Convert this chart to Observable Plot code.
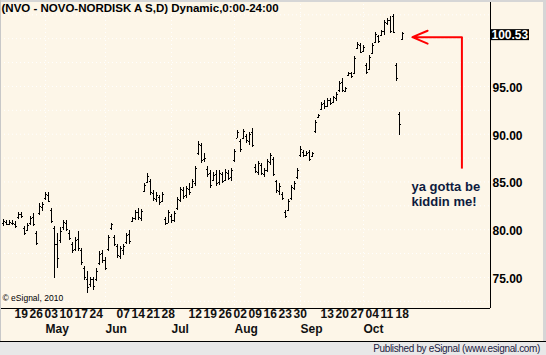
<!DOCTYPE html>
<html><head><meta charset="utf-8">
<script src="https://cdn.jsdelivr.net/npm/d3@7"></script>
<script src="https://cdn.jsdelivr.net/npm/@observablehq/plot@0.6"></script>
<style>
html,body{margin:0;padding:0;background:#fdf6e8;}
#wrap{position:relative;width:546px;height:355px;overflow:hidden;background:#fdf6e8;}
#chart svg{display:block}
#footer{position:absolute;left:0;top:341px;width:546px;height:14px;background:#e8e8e8;border-top:1px solid #000;box-sizing:border-box;font:10px "Liberation Sans",Arial,sans-serif;color:#22223f;text-align:right;padding-right:6px;line-height:13px;letter-spacing:-0.35px;}
.edge{position:absolute;background:#d6d6d6;}
</style>
</head><body>
<div id="wrap"><div id="chart"></div><div id="footer">Published by eSignal (www.esignal.com)</div>
<div class="edge" style="left:0;top:0;width:546px;height:2px"></div>
<div class="edge" style="left:543px;top:0;width:3px;height:341px"></div>
<div class="edge" style="left:0;top:0;width:1px;height:341px;background:#c8c8c8"></div>
</div>
<script>
// ----- data (trading days from 13 Apr 2010 to 20 Oct 2010) -----
const title = "(NVO - NOVO-NORDISK A S,D) Dynamic,0:00-24:00";
const opens = [
80.6,80.8,80.5,80.7,80.5,81.3,81.6,80.1,79.9,80.6,
81.3,79.6,81.7,82.3,83.3,83.6,82.0,80.1,78.5,78.9,
80.2,80.7,79.6,78.5,77.9,79.0,77.8,75.9,74.8,74.3,
74.8,74.8,76.5,77.5,76.8,77.9,80.1,79.2,78.2,77.2,
77.8,78.7,79.5,80.9,81.2,81.8,81.2,84.0,84.9,85.1,
83.8,83.2,83.4,83.0,81.1,80.7,81.4,81.0,82.2,83.1,
84.1,83.6,84.2,84.4,84.8,88.0,88.8,87.3,86.3,85.9,
85.2,85.8,84.9,85.8,85.2,85.9,85.5,87.2,89.6,89.2,
89.5,89.8,89.2,90.2,86.5,86.0,86.7,85.8,86.2,87.0,
87.4,85.0,84.0,83.7,81.8,82.0,83.3,84.3,85.5,87.8,
88.1,87.8,88.1,87.7,90.3,91.7,92.6,93.2,92.9,93.5,
93.3,93.7,94.6,95.4,94.5,96.1,96.4,96.4,99.0,99.3,
98.7,97.2,96.8,98.4,99.6,100.2,100.3,100.8,101.6,101.9,
102.3,97.2,92.1,99.9];
const highs = [
81.1,81.0,81.0,81.0,80.9,81.8,81.8,80.3,80.6,81.4,
81.7,79.8,82.7,82.9,83.9,83.9,82.2,80.3,79.6,80.2,
81.0,81.0,79.9,78.7,79.2,79.8,78.0,76.1,75.6,75.0,
75.0,75.9,77.7,77.8,77.1,79.4,80.7,79.4,78.4,78.2,
78.5,79.6,79.9,81.3,82.0,82.2,82.1,84.8,85.9,85.3,
84.1,83.9,83.6,83.9,81.3,82.0,81.6,81.9,83.4,84.4,
84.4,84.5,84.8,85.3,86.6,89.2,89.0,88.0,86.6,86.2,
86.0,86.2,86.2,86.0,86.3,86.2,86.4,88.4,90.4,89.4,
90.5,90.0,90.2,90.6,86.8,87.1,86.9,86.4,87.3,88.0,
87.6,85.2,84.8,83.9,82.0,83.2,84.6,85.0,86.4,88.7,
88.3,88.2,88.3,88.1,91.4,92.1,93.3,93.5,93.7,93.7,
94.0,94.4,95.5,95.8,94.9,96.5,96.5,98.1,99.6,99.5,
99.3,97.4,98.2,99.5,100.7,100.3,100.9,101.9,102.1,102.3,
102.5,97.4,92.3,100.6];
const lows = [
80.3,80.4,80.4,80.4,80.1,81.1,81.2,79.4,79.8,80.4,
80.3,78.3,81.5,81.9,83.1,82.8,80.6,74.9,75.9,78.6,
79.9,79.8,78.9,77.5,77.7,77.7,76.3,74.7,73.3,74.0,
73.6,74.6,76.3,76.5,75.7,77.7,79.9,78.2,77.0,76.9,
77.3,78.5,78.5,80.8,81.0,81.0,80.9,83.9,84.8,83.6,
83.0,82.8,82.5,82.9,80.4,80.6,80.7,80.8,82.0,82.9,
83.2,83.3,83.6,84.3,84.5,87.8,86.9,87.0,85.5,84.3,
85.0,84.5,84.6,84.8,85.0,85.2,85.1,87.0,89.5,88.1,
89.4,89.0,88.8,88.6,85.9,85.7,85.7,85.5,86.0,86.7,
85.6,83.8,83.6,83.1,81.2,81.9,83.1,84.1,85.3,87.6,
87.6,87.7,87.1,87.6,90.1,91.6,92.5,92.6,92.8,93.0,
93.2,93.4,94.4,94.4,94.4,96.0,95.8,96.2,98.9,98.4,
98.6,96.3,96.7,98.3,99.5,99.5,100.2,100.3,101.4,100.5,
100.5,95.5,89.9,99.8];
const closes = [
80.9,80.5,80.8,80.6,80.3,81.6,81.4,79.6,80.4,81.2,
80.5,78.6,82.4,82.6,83.7,83.0,80.9,78.4,77.0,79.8,
80.8,80.0,79.1,77.8,78.9,78.0,76.6,75.0,74.0,74.8,
74.1,75.6,77.4,76.8,75.9,79.2,80.5,78.4,77.3,78.0,
78.2,79.4,78.8,81.2,81.8,81.3,81.9,84.6,85.6,83.9,
83.3,83.6,82.8,83.7,80.6,81.8,81.0,81.7,83.2,84.2,
83.5,84.3,83.9,85.1,86.4,88.9,87.2,87.5,85.8,84.6,
85.7,84.8,85.9,85.1,86.0,85.4,86.2,88.2,90.2,88.4,
90.3,89.3,90.0,88.8,86.1,86.9,85.9,86.2,87.1,87.8,
85.8,84.1,84.5,83.3,81.4,83.0,84.4,84.8,86.2,88.4,
87.8,88.0,87.4,88.0,91.2,92.0,93.1,92.9,93.5,93.2,
93.8,94.2,95.3,94.6,94.8,96.4,96.0,97.9,99.4,98.6,
99.1,96.5,98.0,99.3,100.4,99.7,100.8,101.7,101.9,100.8,
100.7,95.8,91.0,100.53];
// weekly date labels (bar index of each Monday) and month labels
const weekIndex  = [4,9,14,19,24,29,38,43,48,53,62,67,72,77,82,87,92,97,106,111,116,121,126,131];
const weekLabels = ["19","26","03","10","17","24","07","14","21","28","12","19","26","02","09","16","23","30","13","20","27","04","11","18"];
const monthIndex  = [14,34,56,77,99,120];
const monthLabels = ["May","Jun","Jul","Aug","Sep","Oct"];
const priceTicks = [75,80,85,90,95];   // the 100.00 label sits hidden under the last-price box
const gridPrices = [72.5,75,77.5,80,82.5,85,87.5,90,92.5,95,97.5,100,102.5];
const lastClose = 100.53;
const copyright = "© eSignal, 2010";
const note = "ya gotta be\nkiddin me!";
// annotation arrow in chart coordinates (bar index, price)
const arrowTip = {i: 136.3, p: 100.16};
const arrowCorner = {i: 152.8, p: 100.16};
const arrowEnd = {i: 152.8, p: 86.4};
const noteAt = {i: 136.0, p: 83.76};

// ----- build -----
const bars = highs.map((h, i) => ({i, open: opens[i], high: h, low: lows[i], close: closes[i]}));
const weeks = weekIndex.map((i, k) => ({i, label: weekLabels[k]}));
const months = monthIndex.map((i, k) => ({i, label: monthLabels[k]}));
const xMin = -1, xMax = 162.33, yMin = 71.75, yMax = 104.0;
const FONT = '"Liberation Sans", Arial, sans-serif';

function lastPriceBox(index, scales, values, dims) {
  const y = scales.y(lastClose);
  const x0 = dims.width - dims.marginRight + 1;
  const g = d3.create("svg:g");
  g.append("rect").attr("x", x0).attr("y", y - 4).attr("width", 38).attr("height", 11).attr("fill", "#000");
  g.append("text").attr("x", x0 + 0.5).attr("y", y + 1.5).attr("dy", "0.36em")
    .attr("text-anchor", "start")
    .attr("fill", "#fff").attr("font-weight", "bold").attr("font-size", 12)
    .attr("font-family", FONT).text(lastClose.toFixed(2));
  return g.node();
}

const chart = Plot.plot({
  width: 546, height: 341,
  marginTop: 0, marginBottom: 33, marginLeft: 0, marginRight: 56,
  style: {background: "transparent", fontFamily: FONT, fontSize: "12px", fontWeight: "bold", color: "#000"},
  x: {domain: [xMin, xMax], axis: null},
  y: {domain: [yMin, yMax], axis: null},
  marks: [
    Plot.ruleY(gridPrices, {stroke: "#ffffff", strokeDasharray: "1,3", strokeWidth: 1}),
    Plot.ruleX(monthIndex, {stroke: "#ffffff", strokeDasharray: "1,3", strokeWidth: 1}),
    Plot.ruleX(bars, {x: "i", y1: "low", y2: "high", stroke: "#000", strokeWidth: 1, shapeRendering: "crispEdges"}),
    Plot.ruleY(bars, {y: "open", x1: d => d.i - 0.42, x2: "i", stroke: "#000", strokeWidth: 1, shapeRendering: "crispEdges"}),
    Plot.ruleY(bars, {y: "close", x1: "i", x2: d => d.i + 0.5, stroke: "#000", strokeWidth: 1, shapeRendering: "crispEdges"}),
    Plot.ruleX([xMax], {stroke: "#000", strokeWidth: 1}),
    Plot.ruleY([yMin], {x1: xMin, x2: xMax, stroke: "#000", strokeWidth: 1}),
    Plot.axisY({anchor: "right", ticks: priceTicks, tickFormat: d => d.toFixed(2), tickSize: 0, tickPadding: 2, label: null, fontSize: 12, fontWeight: "bold", dy: 1.5}),
    Plot.text(weeks, {x: "i", text: "label", frameAnchor: "bottom", textAnchor: "start", dx: -1, dy: 9.5, fontSize: 12, fontWeight: "bold", fill: "#111"}),
    Plot.text(months, {x: "i", text: "label", frameAnchor: "bottom", textAnchor: "start", dy: 24.5, fontSize: 12, fontWeight: "bold", fill: "#111"}),
    Plot.text([title], {frameAnchor: "top-left", dx: 1, dy: 3, lineAnchor: "top", fontSize: 11.5, fontWeight: "bold", fill: "#000"}),
    Plot.text([copyright], {frameAnchor: "bottom-left", dx: 2, dy: -8, fontSize: 8.5, fontWeight: "normal", fill: "#000"}),
    Plot.link([{a: arrowEnd, b: arrowCorner}], {x1: d => d.a.i, y1: d => d.a.p, x2: d => d.b.i, y2: d => d.b.p, stroke: "#ff0000", strokeWidth: 2}),
    Plot.arrow([{a: arrowCorner, b: arrowTip}], {x1: d => d.a.i, y1: d => d.a.p, x2: d => d.b.i, y2: d => d.b.p, stroke: "#ff0000", strokeWidth: 2, headLength: 23, headAngle: 46}),
    Plot.text([note], {x: noteAt.i, y: noteAt.p, textAnchor: "start", lineHeight: 1.15, fontSize: 13, fontWeight: "bold", fill: "#0d1b3e"}),
    lastPriceBox
  ]
});
document.getElementById("chart").appendChild(chart);
</script>
</body></html>
